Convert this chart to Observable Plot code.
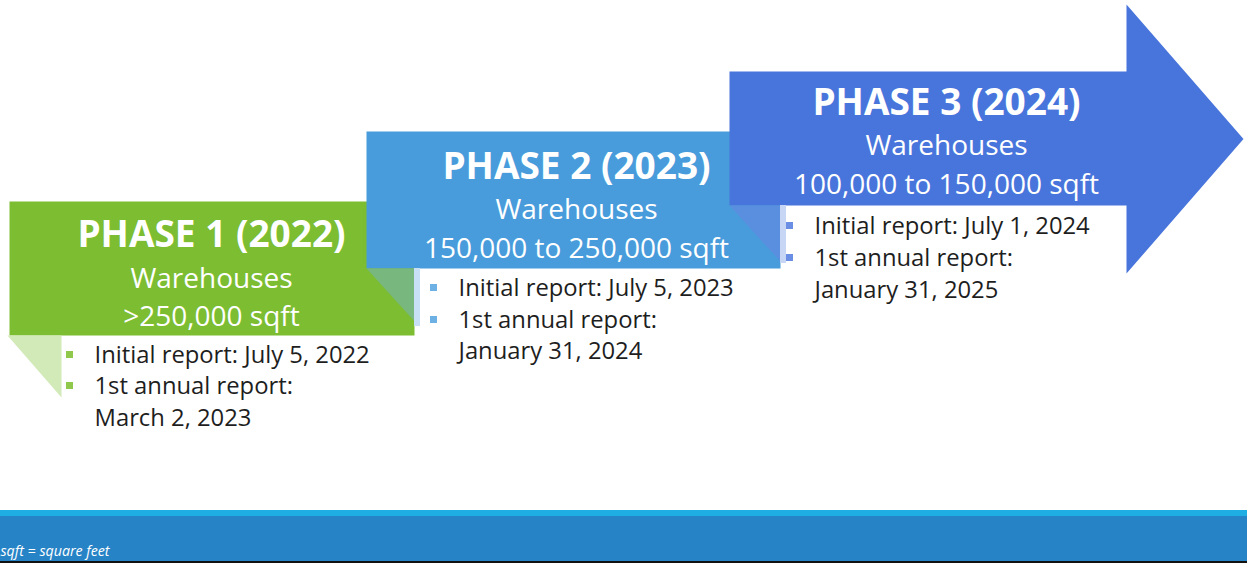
<!DOCTYPE html>
<html><head><meta charset="utf-8">
<script src="https://cdn.jsdelivr.net/npm/d3@7"></script>
<script src="https://cdn.jsdelivr.net/npm/@observablehq/plot@0.6"></script>
<style>html,body{margin:0;padding:0;background:#fff;overflow:hidden} svg{display:block}</style>
</head><body><div id="chart"></div>
<script>
// ---- data ----
const phases = ["PHASE 1", "PHASE 2", "PHASE 3"];
const years = [2022, 2023, 2024];
const facilityLabel = "Warehouses";
const sizeLabels = [">250,000 sqft", "150,000 to 250,000 sqft", "100,000 to 150,000 sqft"];
const initialReports = ["July 5, 2022", "July 5, 2023", "July 1, 2024"];
const annualReports = ["March 2, 2023", "January 31, 2024", "January 31, 2025"];
const footnote = "sqft = square feet";

// ---- style ----
const boxColors = ["#7cbd31", "#489cdb", "#4875dc"];
const bulletColors = ["#90c84c", "#6db0e4", "#6a8ee4"];
const foldColors = ["#d2e9b8", "#78b77e", "#5a8fe0"];
const stripColors = ["#d2e9b8", "#c8e0f5", "#c8d6f6"];
const FONT = "'Open Sans', Lato, sans-serif";

// ---- layout (pixel frame) ----
const W = 1247, H = 563;
const boxes = [
  {x1: 9,   x2: 414,  y1: 201, y2: 335, cx: 211, t: [246, 287, 325], bx: 94,  by: [362, 393, 425]},
  {x1: 366, x2: 780,  y1: 131, y2: 268, cx: 576, t: [178, 218, 257], bx: 458, by: [295, 327, 358]},
  {x1: 729, x2: 1126, y1: 71,  y2: 205, cx: 946, t: [114, 154, 193], bx: 814, by: [233, 265, 297]}
];
const arrowHead = {x2: 1243, top: 4, bottom: 273};
const foldW = 52;

// ---- derived tables ----
const shapes = [];
boxes.forEach((b, i) => {
  let pts;
  if (i === 2) {
    const my = (arrowHead.top + arrowHead.bottom) / 2;
    pts = [[b.x1,b.y1],[b.x2,b.y1],[b.x2,arrowHead.top],[arrowHead.x2,my],[b.x2,arrowHead.bottom],[b.x2,b.y2],[b.x1,b.y2]];
  } else {
    pts = [[b.x1,b.y1],[b.x2,b.y1],[b.x2,b.y2],[b.x1,b.y2]];
  }
  pts.forEach(([x,y]) => shapes.push({id: "box" + i, order: i * 2, x, y, fill: boxColors[i]}));
  const fx0 = i === 0 ? b.x1 - 2 : b.x1;
  const fx1 = i === 0 ? b.x1 + foldW : boxes[i - 1].x2;
  const fy1 = i === 0 ? b.y2 + 62 : b.y2 + (fx1 - fx0) * 1.1;
  [[fx0,b.y2],[fx1,b.y2],[fx1,fy1]].forEach(([x,y]) =>
    shapes.push({id: "fold" + i, order: i * 2 + 1, x, y, fill: foldColors[i]}));
});
shapes.sort((a, b) => a.order - b.order);

const strips = boxes.slice(1).map((b, k) => ({
  x1: boxes[k].x2, x2: boxes[k].x2 + 6, y1: b.y2, y2: b.y2 + 58, fill: stripColors[k + 1]
}));

const titleRows = boxes.map((b, i) => ({x: b.cx, y: b.t[0], text: `${phases[i]} (${years[i]})`}));
const subRows = boxes.flatMap((b, i) => [
  {x: b.cx, y: b.t[1], text: facilityLabel},
  {x: b.cx, y: b.t[2], text: sizeLabels[i]}
]);
const bulletRows = boxes.flatMap((b, i) => [
  {x: b.bx, y: b.by[0], text: `Initial report: ${initialReports[i]}`},
  {x: b.bx, y: b.by[1], text: "1st annual report:"},
  {x: b.bx, y: b.by[2], text: annualReports[i]}
]);
const bulletMarks = boxes.flatMap((b, i) => [0, 1].map(j => ({
  x1: b.bx - 28, x2: b.bx - 21, y1: b.by[j] - 11, y2: b.by[j] - 4, fill: bulletColors[i]
})));

const footer = [
  {x1: 0, x2: W, y1: 510, y2: 516, fill: "#1eaee3"},
  {x1: 0, x2: W, y1: 516, y2: 561, fill: "#2683c6"},
  {x1: 0, x2: W, y1: 561, y2: 563, fill: "#111111"}
];

const chart = Plot.plot({
  width: W, height: H,
  margin: 0,
  x: {domain: [0, W], range: [0, W], axis: null},
  y: {domain: [0, H], range: [0, H], axis: null},
  style: {background: "#ffffff", overflow: "visible"},
  marks: [
    Plot.rect(footer, {x1: "x1", x2: "x2", y1: "y1", y2: "y2", fill: d => d.fill}),
    Plot.text([footnote], {x: 0, y: 555, text: d => d, textAnchor: "start", lineAnchor: "bottom",
      fill: "white", fontSize: 14.2, fontStyle: "italic", fontFamily: FONT}),
    Plot.line(shapes, {x: "x", y: "y", z: "id", fill: d => d.fill, stroke: "none", curve: "linear-closed"}),
    Plot.rect(strips, {x1: "x1", x2: "x2", y1: "y1", y2: "y2", fill: d => d.fill}),
    Plot.text(titleRows, {x: "x", y: "y", text: "text", textAnchor: "middle", lineAnchor: "bottom",
      fill: "white", fontSize: 37, fontWeight: "bold", fontFamily: FONT}),
    Plot.text(subRows, {x: "x", y: "y", text: "text", textAnchor: "middle", lineAnchor: "bottom",
      fill: "white", fontSize: 28, fontFamily: FONT}),
    Plot.rect(bulletMarks, {x1: "x1", x2: "x2", y1: "y1", y2: "y2", fill: d => d.fill}),
    Plot.text(bulletRows, {x: "x", y: "y", text: "text", textAnchor: "start", lineAnchor: "bottom",
      fill: "#1e1e1e", fontSize: 23.8, fontFamily: FONT})
  ]
});
document.getElementById("chart").appendChild(chart);
</script>
</body></html>
